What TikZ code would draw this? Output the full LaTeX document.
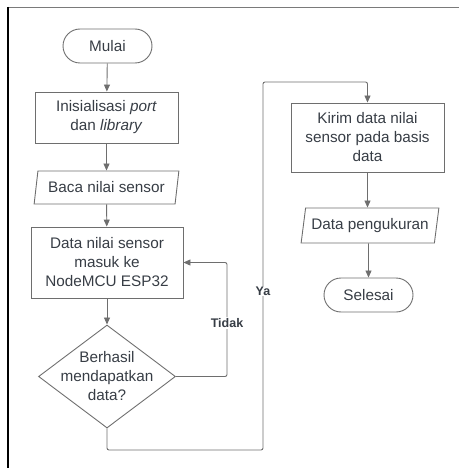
\documentclass[tikz,border=0pt]{standalone}
\usepackage{fontspec}
\setmainfont{Liberation Sans}
\usetikzlibrary{shapes.geometric,shapes.misc,arrows.meta}
\definecolor{linegray}{HTML}{6E6E6E}
\definecolor{textgray}{HTML}{373D45}
\definecolor{framegray}{HTML}{7A7A7A}

\tikzset{
  txt/.style={font=\fontsize{15.3}{19}\selectfont, text=textgray, align=center, inner sep=0pt},
  shapeline/.style={draw=linegray, line width=0.9pt},
  procbox/.style={txt, shapeline, rectangle},
  termbox/.style={txt, shapeline, rounded rectangle},
  iobox/.style={txt, shapeline, trapezium, trapezium stretches=true,
                trapezium left angle=74, trapezium right angle=106},
  decbox/.style={shapeline, diamond, inner sep=0pt},
  flow/.style={draw=linegray, line width=0.9pt, rounded corners=2pt,
               -{Triangle[length=7pt,width=6pt]}},
  flowlabel/.style={font=\fontsize{12.5}{14}\selectfont\bfseries, text=textgray,
                    fill=white, inner sep=1pt}
}

\begin{document}
\begin{tikzpicture}[x=1pt,y=-1pt]
  \useasboundingbox (0,0) rectangle (459,468);

  % frame
  \draw[framegray, line width=1.6pt] (8,7.5) -- (459,7.5);
  \draw[black, line width=1.6pt] (8,7) -- (8,468);

  % left column
  \node[termbox, minimum width=89, minimum height=34] (mulai) at (107.5,46) {Mulai};
  \node[procbox, minimum width=143, minimum height=51] (init) at (106.5,117.5)
    {Inisialisasi \textit{port}\\dan \textit{library}};
  \node[iobox, minimum width=145, minimum height=33] (baca) at (106.5,187.5) {Baca nilai sensor};
  \node[procbox, minimum width=152, minimum height=71] (data) at (107,262.5)
    {Data nilai sensor\\masuk ke\\NodeMCU ESP32};
  \node[decbox, minimum width=137, minimum height=103] (dec) at (107,376.5) {};
  \node[txt] (dectext) at (dec.center) {Berhasil\\mendapatkan\\data?};

  % right column
  \node[procbox, minimum width=153, minimum height=69] (kirim) at (367.5,137.5)
    {Kirim data nilai\\sensor pada basis\\data};
  \node[iobox, minimum width=138, minimum height=35] (ukur) at (370,225.5) {Data pengukuran};
  \node[termbox, minimum width=89, minimum height=34] (selesai) at (368.5,295) {Selesai};

  % routing points
  \coordinate (tk) at (227,262.5);
  \coordinate (yb) at (263,450);
  \coordinate (yt) at (263,82);

  % connectors
  \draw[flow] (mulai) -- (init);
  \draw[flow] (init) -- (baca);
  \draw[flow] (baca) -- (data);
  \draw[flow] (data) -- (dec);
  \draw[flow] (dec.east) -| (tk) -- (data.east);
  \draw[flow] (dec.south) |- (yb) -- (yt) -| (kirim.north);
  \draw[flow] (kirim) -- (kirim |- ukur.north);
  \draw[flow] (ukur.south -| selesai) -- (selesai);

  % branch labels
  \node[flowlabel] (tidak) at (227,323) {Tidak};
  \node[flowlabel] (ya) at (263,291) {Ya};
\end{tikzpicture}
\end{document}
